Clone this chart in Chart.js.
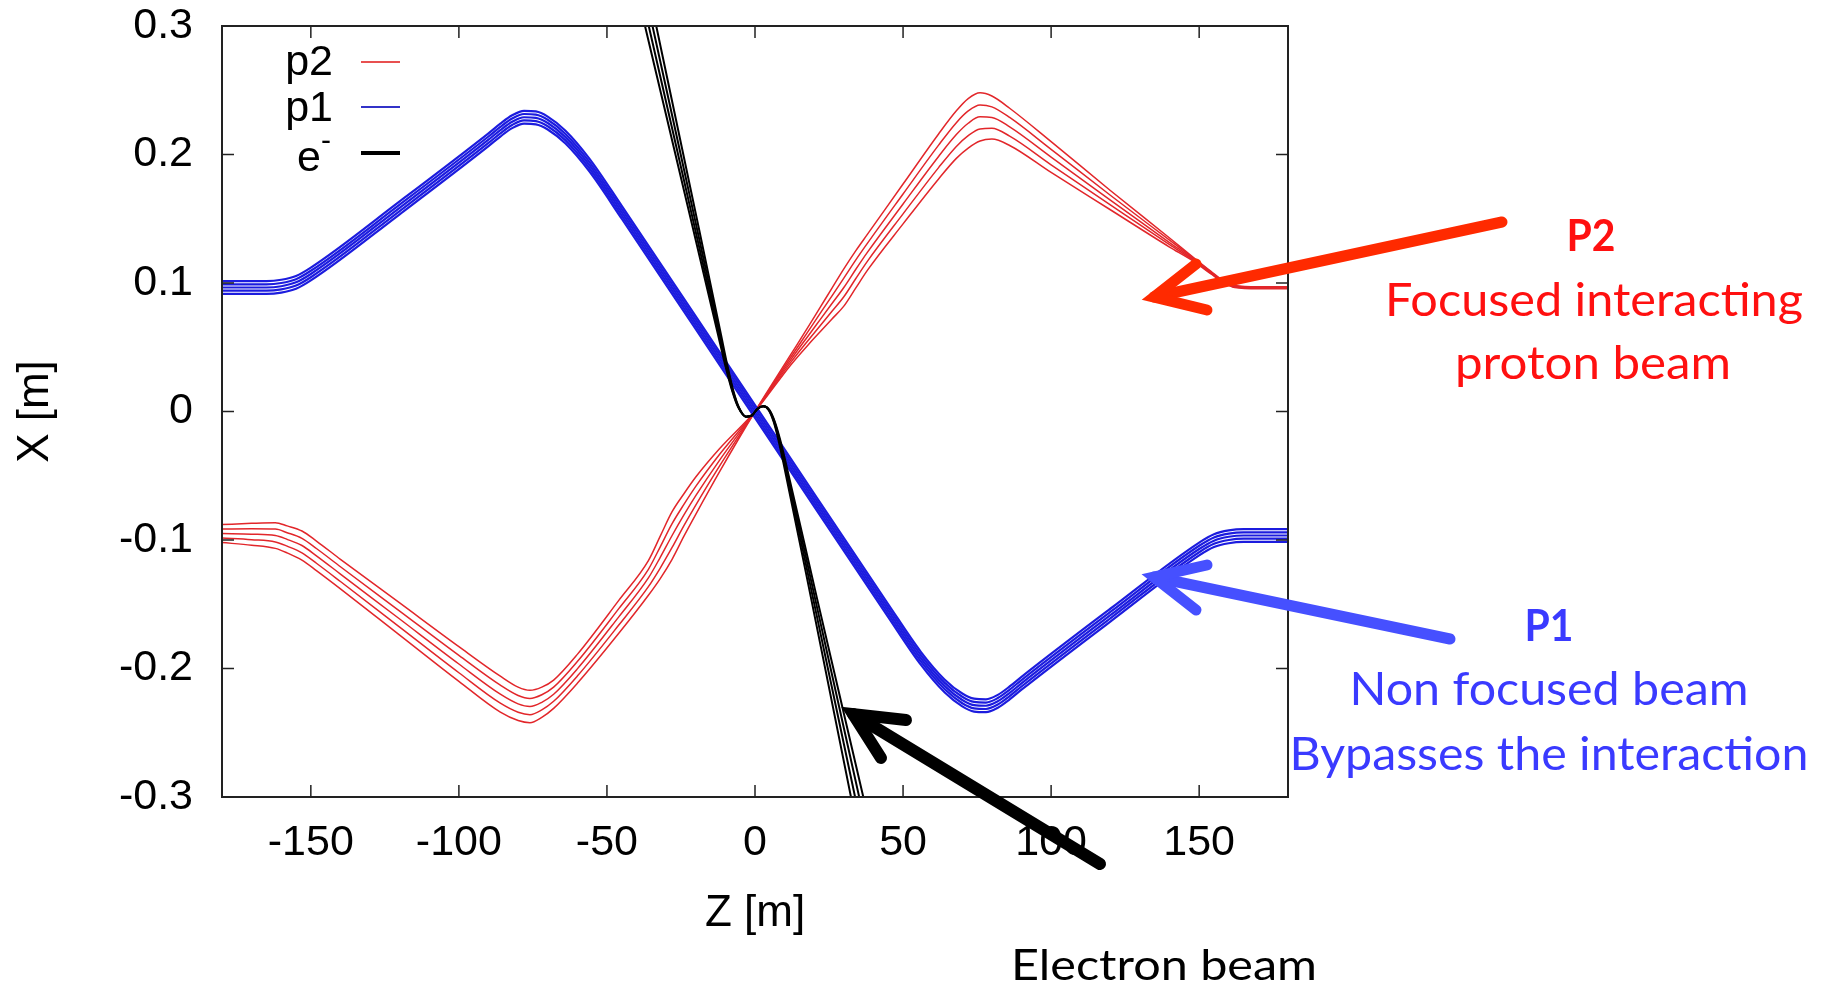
<!DOCTYPE html>
<html lang="en">
<head>
<meta charset="UTF-8">
<title>Proton and electron beam trajectories</title>
<script src="https://cdn.jsdelivr.net/npm/chart.js"></script>
<style>
  html, body { margin: 0; padding: 0; background: #fff; }
  #wrap { width: 1832px; height: 984px; position: relative; }
</style>
</head>
<body>
<div id="wrap"><canvas id="beamChart"></canvas></div>
<script>
// axis ticks
const xTicks = [-150, -100, -50, 0, 50, 100, 150];
const yTicks = [-0.3, -0.2, -0.1, 0, 0.1, 0.2, 0.3];
const yTickLabels = ['-0.3', '-0.2', '-0.1', '0', '0.1', '0.2', '0.3'];

// p2: focused interacting proton beam (5 rays), Z [m] and X [m]
const p2Z = [-180, -170, -162, -158, -153, -148, -140, -120, -100, -86, -80, -76, -72, -68, -60, -46, -36, -32, -28, -24, -20, -12, 0,
             12, 18, 22, 26, 30, 34, 38, 50, 62, 68, 72, 76, 80, 86, 100, 120, 140, 148, 154, 158, 162, 170, 180];
const p2Ray1 = [-0.102, -0.104, -0.1065, -0.110, -0.1156, -0.124, -0.138, -0.174, -0.210, -0.234, -0.2405, -0.2422, -0.238, -0.231, -0.2115, -0.1726, -0.143, -0.130, -0.115, -0.097, -0.080, -0.047, 0,
                0.044, 0.066, 0.081, 0.096, 0.111, 0.125, 0.138, 0.177, 0.216, 0.234, 0.2435, 0.248, 0.2455, 0.236, 0.210, 0.172, 0.135, 0.120, 0.109, 0.102, 0.098, 0.097, 0.097];
const p2Ray2 = [-0.0985, -0.0998, -0.1015, -0.1048, -0.110, -0.1183, -0.1323, -0.1678, -0.2033, -0.227, -0.234, -0.2359, -0.2322, -0.2255, -0.2059, -0.1662, -0.1363, -0.1218, -0.1058, -0.0888, -0.0728, -0.0425, 0,
                0.042, 0.0625, 0.0763, 0.090, 0.1038, 0.1178, 0.131, 0.1693, 0.2073, 0.2248, 0.2339, 0.2386, 0.2371, 0.2288, 0.204, 0.1683, 0.1333, 0.1193, 0.1085, 0.1016, 0.0976, 0.0966, 0.0966];
const p2Ray3 = [-0.095, -0.0955, -0.0965, -0.0995, -0.1043, -0.1125, -0.1265, -0.1615, -0.1965, -0.220, -0.2275, -0.2296, -0.2263, -0.220, -0.2003, -0.1598, -0.1295, -0.1135, -0.0965, -0.0805, -0.0655, -0.038, 0,
                0.040, 0.059, 0.0715, 0.084, 0.0965, 0.1105, 0.124, 0.1615, 0.1985, 0.2155, 0.2243, 0.2293, 0.2288, 0.2215, 0.198, 0.1645, 0.1315, 0.1185, 0.108, 0.1013, 0.0973, 0.0963, 0.0963];
const p2Ray4 = [-0.0915, -0.0913, -0.0915, -0.0943, -0.0987, -0.1068, -0.1208, -0.1553, -0.1898, -0.213, -0.221, -0.2233, -0.2204, -0.2145, -0.1946, -0.1534, -0.1228, -0.1053, -0.0873, -0.0723, -0.0583, -0.0335, 0,
                0.038, 0.0555, 0.0668, 0.078, 0.0893, 0.1033, 0.117, 0.1538, 0.1898, 0.2063, 0.2147, 0.2199, 0.2204, 0.2143, 0.192, 0.1608, 0.1298, 0.1178, 0.1075, 0.1009, 0.0969, 0.0959, 0.0959];
const p2Ray5 = [-0.088, -0.087, -0.0865, -0.089, -0.093, -0.101, -0.115, -0.149, -0.183, -0.206, -0.2145, -0.217, -0.2145, -0.209, -0.189, -0.147, -0.116, -0.097, -0.078, -0.064, -0.051, -0.029, 0,
                0.036, 0.052, 0.062, 0.072, 0.082, 0.096, 0.110, 0.146, 0.181, 0.197, 0.205, 0.2105, 0.212, 0.207, 0.186, 0.157, 0.128, 0.117, 0.107, 0.1005, 0.0965, 0.0955, 0.0955];

// p1: non focused proton beam (5 rays)
const p1Z = [-180, -165, -160, -155, -150, -120, -90, -86, -82, -78, -74, -70, -64, -56, -45, -20, 0,
             20, 45, 56, 64, 70, 74, 78, 82, 86, 90, 120, 150, 155, 160, 165, 180];
const p1Ray1 = [0.1015, 0.1015, 0.1025, 0.1055, 0.112, 0.1635, 0.2165, 0.224, 0.2305, 0.234, 0.2335, 0.2295, 0.2185, 0.197, 0.160, 0.074, 0.005,
                -0.064, -0.150, -0.187, -0.2085, -0.2195, -0.2235, -0.224, -0.2205, -0.214, -0.2065, -0.1535, -0.102, -0.0955, -0.0925, -0.0915, -0.0915];
const p1Ray2 = [0.099, 0.099, 0.100, 0.103, 0.1095, 0.161, 0.214, 0.2215, 0.228, 0.2315, 0.231, 0.227, 0.216, 0.1945, 0.1575, 0.0715, 0.0025,
                -0.0665, -0.1525, -0.1895, -0.211, -0.222, -0.226, -0.2265, -0.223, -0.2165, -0.209, -0.156, -0.1045, -0.098, -0.095, -0.094, -0.094];
const p1Ray3 = [0.0965, 0.0965, 0.0975, 0.1005, 0.107, 0.1585, 0.2115, 0.219, 0.2255, 0.229, 0.2285, 0.2245, 0.2135, 0.192, 0.155, 0.069, 0,
                -0.069, -0.155, -0.192, -0.2135, -0.2245, -0.2285, -0.229, -0.2255, -0.219, -0.2115, -0.1585, -0.107, -0.1005, -0.0975, -0.0965, -0.0965];
const p1Ray4 = [0.094, 0.094, 0.095, 0.098, 0.1045, 0.156, 0.209, 0.2165, 0.223, 0.2265, 0.226, 0.222, 0.211, 0.1895, 0.1525, 0.0665, -0.0025,
                -0.0715, -0.1575, -0.1945, -0.216, -0.227, -0.231, -0.2315, -0.228, -0.2215, -0.214, -0.161, -0.1095, -0.103, -0.100, -0.099, -0.099];
const p1Ray5 = [0.0915, 0.0915, 0.0925, 0.0955, 0.102, 0.1535, 0.2065, 0.214, 0.2205, 0.224, 0.2235, 0.2195, 0.2085, 0.187, 0.150, 0.064, -0.005,
                -0.074, -0.160, -0.197, -0.2185, -0.2295, -0.2335, -0.234, -0.2305, -0.224, -0.2165, -0.1635, -0.112, -0.1055, -0.1025, -0.1015, -0.1015];

// e-: electron beam (4 rays share X, each has its own Z)
const eX  = [0.318, 0.143, 0.060, 0.035, 0.016, 0.003, -0.004, -0.003, 0.002, 0.004, 0.001, -0.008, -0.022, -0.040, -0.146, -0.316];
const eZ1 = [-39, -21, -12.5, -9.95, -7.7, -5.62, -3.06, -1, 0.85, 2.9, 4.95, 6.7, 8.5, 10.4, 21, 38.2];
const eZ2 = [-37.67, -20.33, -12.17, -9.72, -7.57, -5.54, -3.02, -1, 0.82, 2.83, 4.85, 6.57, 8.3, 10.13, 20.33, 36.73];
const eZ3 = [-36.33, -19.67, -11.83, -9.48, -7.43, -5.46, -2.98, -1, 0.78, 2.77, 4.75, 6.43, 8.1, 9.87, 19.67, 35.27];
const eZ4 = [-35, -19, -11.5, -9.25, -7.3, -5.38, -2.94, -1, 0.75, 2.7, 4.65, 6.3, 7.9, 9.6, 19, 33.8];

const RED = '#e2262a', BLUE = 'rgb(28,28,222)', BLACK = '#000';

function ray(zs, xs, color, width) {
  return {
    data: zs.map((z, i) => ({ x: z, y: xs[i] })),
    showLine: true,
    borderColor: color,
    borderWidth: width,
    pointRadius: 0,
    cubicInterpolationMode: 'monotone',
    clip: 0
  };
}

const datasets = [];
[eZ1, eZ2, eZ3, eZ4].forEach(zs => datasets.push(ray(zs, eX, BLACK, 2)));
[p1Ray1, p1Ray2, p1Ray3, p1Ray4, p1Ray5].forEach(r => datasets.push(ray(p1Z, r, BLUE, 2.2)));
[p2Ray1, p2Ray2, p2Ray3, p2Ray4, p2Ray5].forEach(r => datasets.push(ray(p2Z, r, RED, 1.5)));

// text stretched to a given width so it sits like the original lettering
function fitText(ctx, txt, cx, base, font, width, color) {
  ctx.font = font;
  ctx.fillStyle = color;
  ctx.textAlign = 'center';
  ctx.textBaseline = 'alphabetic';
  const w = ctx.measureText(txt).width;
  ctx.save();
  ctx.translate(cx, base);
  ctx.scale(width / w, 1);
  ctx.fillText(txt, 0, 0);
  ctx.restore();
}

function arrow(ctx, tail, tip, w1, w2, color, width) {
  ctx.strokeStyle = color;
  ctx.lineWidth = width;
  ctx.lineCap = 'round';
  ctx.lineJoin = 'miter';
  ctx.beginPath();
  ctx.moveTo(tail[0], tail[1]);
  ctx.lineTo(tip[0], tip[1]);
  ctx.stroke();
  ctx.beginPath();
  ctx.moveTo(w1[0], w1[1]);
  ctx.lineTo(tip[0], tip[1]);
  ctx.lineTo(w2[0], w2[1]);
  ctx.stroke();
}

const decor = {
  id: 'decor',
  afterDraw(chart) {
    const { ctx, chartArea: a, scales: { x, y } } = chart;
    ctx.save();

    // frame and inward ticks (gnuplot style)
    ctx.strokeStyle = '#222';
    ctx.lineWidth = 2;
    ctx.strokeRect(a.left, a.top, a.right - a.left, a.bottom - a.top);
    ctx.lineWidth = 1.5;
    ctx.beginPath();
    xTicks.forEach(v => {
      const px = x.getPixelForValue(v);
      ctx.moveTo(px, a.bottom); ctx.lineTo(px, a.bottom - 12);
      ctx.moveTo(px, a.top); ctx.lineTo(px, a.top + 12);
    });
    yTicks.forEach(v => {
      const py = y.getPixelForValue(v);
      ctx.moveTo(a.left, py); ctx.lineTo(a.left + 12, py);
      ctx.moveTo(a.right, py); ctx.lineTo(a.right - 12, py);
    });
    ctx.stroke();

    // legend (top left, inside the frame)
    ctx.font = '43px "Liberation Sans"';
    ctx.fillStyle = '#000';
    ctx.textAlign = 'right';
    ctx.textBaseline = 'alphabetic';
    ctx.fillText('p2', 333, 75);
    ctx.fillText('p1', 333, 121);
    ctx.fillText('e', 321, 171);
    ctx.textAlign = 'left';
    ctx.font = '30px "Liberation Sans"';
    ctx.fillText('-', 321, 150);
    ctx.lineCap = 'butt';
    [[62, 'rgb(232,80,80)', 2], [107, 'rgb(50,50,200)', 2], [153, '#000', 4]].forEach(([ly, c, w]) => {
      ctx.strokeStyle = c; ctx.lineWidth = w;
      ctx.beginPath(); ctx.moveTo(361, ly); ctx.lineTo(400, ly); ctx.stroke();
    });

    // annotation arrows
    arrow(ctx, [1502, 222], [1154, 297], [1196, 264], [1207, 310], '#ff2a00', 11);
    arrow(ctx, [1450, 639], [1154, 577], [1207, 565], [1196, 610], '#4650ff', 11);
    arrow(ctx, [1100, 864], [853, 714], [906, 720], [881, 758], '#000', 12);

    // annotation texts
    const RT = '#ff1010', BT = '#3a3aff';
    fitText(ctx, 'P2', 1591, 251, 'bold 43px Lato', 49, RT);
    fitText(ctx, 'Focused interacting', 1594, 316, '46px Lato', 418, RT);
    fitText(ctx, 'proton beam', 1593, 379, '46px Lato', 276, RT);
    fitText(ctx, 'P1', 1549, 641, 'bold 43px Lato', 49, BT);
    fitText(ctx, 'Non focused beam', 1549, 705, '46px Lato', 399, BT);
    fitText(ctx, 'Bypasses the interaction', 1549, 770, '46px Lato', 519, BT);
    fitText(ctx, 'Electron beam', 1164, 980, '43px Lato', 306, '#000');

    ctx.restore();
  }
};

Chart.defaults.font.family = '"Liberation Sans", Arial, sans-serif';

new Chart(document.getElementById('beamChart'), {
  type: 'scatter',
  data: { datasets },
  options: {
    responsive: true,
    maintainAspectRatio: false,
    animation: false,
    events: [],
    layout: { padding: { left: 0, right: 544, top: 0, bottom: 0 } },
    plugins: { legend: { display: false }, tooltip: { enabled: false } },
    scales: {
      x: {
        type: 'linear', min: -180, max: 180,
        grid: { display: false, drawTicks: false },
        border: { display: false },
        afterBuildTicks: s => { s.ticks = xTicks.map(v => ({ value: v })); },
        afterFit: s => { s.height = 187; s.paddingLeft = 0; s.paddingRight = 0; },
        ticks: { font: { size: 43 }, color: '#000', padding: 20, maxRotation: 0, autoSkip: false,
                 callback: v => String(v) },
        title: { display: true, text: 'Z [m]', font: { size: 44 }, color: '#000', padding: { top: 0, bottom: 44 } }
      },
      y: {
        type: 'linear', min: -0.3, max: 0.3,
        grid: { display: false, drawTicks: false },
        border: { display: false },
        afterBuildTicks: s => { s.ticks = yTicks.map(v => ({ value: v })); },
        afterFit: s => { s.width = 222; s.paddingTop = 26; s.paddingBottom = 0; },
        ticks: { font: { size: 43 }, color: '#000', padding: 29, autoSkip: false,
                 callback: (v, i) => yTickLabels[i] },
        title: { display: true, text: 'X [m]', font: { size: 44 }, color: '#000', padding: { top: 9, bottom: 0 } }
      }
    }
  },
  plugins: [decor]
});
</script>
</body>
</html>
